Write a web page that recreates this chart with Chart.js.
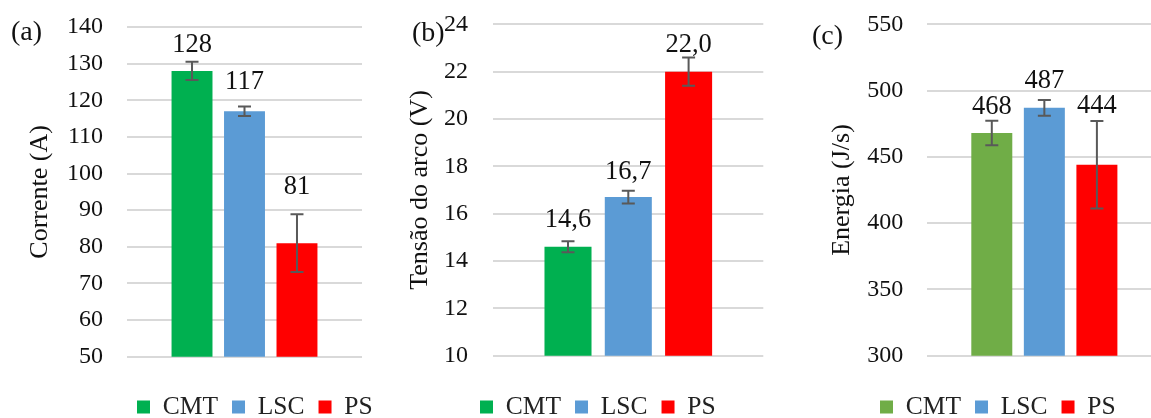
<!DOCTYPE html>
<html>
<head>
<meta charset="utf-8">
<script src="https://cdn.jsdelivr.net/npm/chart.js@4/dist/chart.umd.min.js"></script>
<style>
  html, body { margin: 0; padding: 0; background: #fff; overflow: hidden; width: 1151px; height: 418px; }
  canvas { position: absolute; top: 0; }
</style>
</head>
<body>
<canvas id="panelA" width="380" height="418" style="left:0px"></canvas>
<canvas id="panelB" width="390" height="418" style="left:390px"></canvas>
<canvas id="panelC" width="373" height="418" style="left:790px"></canvas>
<script>
// Welding processes compared in every panel
const processes = ['CMT', 'LSC', 'PS'];

// (a) welding current, A (mean and standard deviation)
const currentMean = [128, 117, 81];
const currentDev  = [2.5, 1.3, 7.9];
const currentAxis = [50, 140, 10];   // min, max, step

// (b) arc voltage, V
const voltageMean = [14.6, 16.7, 22.0];
const voltageDev  = [0.23, 0.27, 0.6];
const voltageAxis = [10, 24, 2];

// (c) arc energy, J/s
const energyMean = [468, 487, 444];
const energyDev  = [9.2, 5.9, 33];
const energyAxis = [300, 550, 50];

const SERIF = "'Liberation Serif', 'Times New Roman', serif";
const INK = '#111111';

// Error bars: vertical whisker with caps, drawn through the y scale
const errorBars = {
  id: 'errorBars',
  afterDatasetsDraw(chart, args, opts) {
    const ctx = chart.ctx, ys = chart.scales.y;
    ctx.save();
    ctx.strokeStyle = opts.color;
    ctx.lineWidth = opts.width;
    chart.data.datasets.forEach((ds, i) => {
      const bar = chart.getDatasetMeta(i).data[0];
      const v = ds.data[0], d = opts.devs[i];
      const yTop = ys.getPixelForValue(v + d), yBot = ys.getPixelForValue(v - d);
      ctx.beginPath();
      ctx.moveTo(bar.x, yTop); ctx.lineTo(bar.x, yBot);
      ctx.moveTo(bar.x - opts.cap, yTop); ctx.lineTo(bar.x + opts.cap, yTop);
      ctx.moveTo(bar.x - opts.cap, yBot); ctx.lineTo(bar.x + opts.cap, yBot);
      ctx.stroke();
    });
    ctx.restore();
  }
};

// Mean value written above each whisker
const valueTags = {
  id: 'valueTags',
  afterDatasetsDraw(chart, args, opts) {
    const ctx = chart.ctx, ys = chart.scales.y;
    ctx.save();
    ctx.font = opts.size + 'px ' + SERIF;
    ctx.fillStyle = INK;
    ctx.textAlign = 'center';
    ctx.textBaseline = 'middle';
    chart.data.datasets.forEach((ds, i) => {
      const bar = chart.getDatasetMeta(i).data[0];
      const v = ds.data[0];
      const yTop = ys.getPixelForValue(v + opts.devs[i]);
      const txt = v.toFixed(opts.digits).replace('.', ',');
      ctx.fillText(txt, bar.x, yTop - opts.lifts[i]);
    });
    ctx.restore();
  }
};

// Moves the legend row to a chosen first-box x and text middle y
const legendPlace = {
  id: 'legendPlace',
  afterLayout(chart, args, opts) {
    const lg = chart.legend;
    if (!lg || !lg.lineWidths) return;
    const pad = lg.options.labels.padding;
    const itemH = Math.max(lg.options.labels.boxHeight, opts.fontSize);
    const startX = (lg.left + pad + lg.right - lg.lineWidths[0]) / 2;
    const midY = lg.top + pad + itemH / 2;
    const dx = opts.x - startX, dy = opts.y - midY;
    lg.left += dx; lg.right += dx; lg.top += dy; lg.bottom += dy;
  }
};

// Panel letter in the top-left corner
const panelTag = {
  id: 'panelTag',
  afterDraw(chart, args, opts) {
    const ctx = chart.ctx;
    ctx.save();
    ctx.font = '28px ' + SERIF;
    ctx.fillStyle = INK;
    ctx.textAlign = 'left';
    ctx.textBaseline = 'alphabetic';
    ctx.fillText(opts.text, opts.x, opts.y);
    ctx.restore();
  }
};

function makePanel(id, p) {
  return new Chart(document.getElementById(id), {
    type: 'bar',
    data: {
      labels: [''],
      datasets: processes.map((name, i) => ({
        label: name,
        data: [p.values[i]],
        backgroundColor: p.colors[i],
        borderWidth: 0,
        categoryPercentage: 0.67,
        barPercentage: 0.78
      }))
    },
    options: {
      responsive: false,
      animation: false,
      events: [],
      layout: { padding: p.padding },
      scales: {
        x: { display: false },
        y: {
          min: p.axis[0], max: p.axis[1],
          ticks: { stepSize: p.axis[2], padding: 2, color: INK, font: { family: SERIF, size: 24 } },
          grid: {
            color: '#d9d9d9', lineWidth: 2,
            drawTicks: true, tickLength: p.tickGap, tickColor: 'rgba(0,0,0,0)'
          },
          border: { display: false },
          title: {
            display: true, text: p.title, color: INK,
            font: { family: SERIF, size: 26 },
            padding: { top: 0, bottom: p.titleGap }
          }
        }
      },
      plugins: {
        tooltip: { enabled: false },
        legend: {
          position: 'bottom',
          labels: {
            boxWidth: 13, boxHeight: 13, padding: 14, color: '#222222',
            font: { family: SERIF, size: 25.5 }
          }
        },
        legendPlace: { x: p.legendX, y: 407, fontSize: 25.5 },
        errorBars: { devs: p.devs, color: '#595959', width: 2, cap: 6.5 },
        valueTags: { devs: p.devs, lifts: p.lifts, digits: p.digits, size: 26.5 },
        panelTag: p.tag
      }
    },
    plugins: [errorBars, valueTags, legendPlace, panelTag]
  });
}

makePanel('panelA', {
  values: currentMean, devs: currentDev, axis: currentAxis,
  colors: ['#00b050', '#5b9bd5', '#ff0000'],
  title: 'Corrente (A)', digits: 0, lifts: [17, 24, 27],
  padding: { left: 24.4, right: 18, top: 27, bottom: 11.8 },
  tickGap: 22, titleGap: 9.4, legendX: 137,
  tag: { text: '(a)', x: 11, y: 40 }
});

makePanel('panelB', {
  values: voltageMean, devs: voltageDev, axis: voltageAxis,
  colors: ['#00b050', '#5b9bd5', '#ff0000'],
  title: 'Tensão do arco (V)', digits: 1, lifts: [21, 19, 12],
  padding: { left: 14.4, right: 16.7, top: 24.3, bottom: 12.8 },
  tickGap: 23.3, titleGap: 6.4, legendX: 90,
  tag: { text: '(b)', x: 22, y: 41 }
});

makePanel('panelC', {
  values: energyMean, devs: energyDev, axis: energyAxis,
  colors: ['#70ad47', '#5b9bd5', '#ff0000'],
  title: 'Energia (J/s)', digits: 0, lifts: [14, 19, 15],
  padding: { left: 36.1, right: 1, top: 24.3, bottom: 12.8 },
  tickGap: 21.4, titleGap: 8, legendX: 90,
  tag: { text: '(c)', x: 22, y: 43.5 }
});
</script>
</body>
</html>
